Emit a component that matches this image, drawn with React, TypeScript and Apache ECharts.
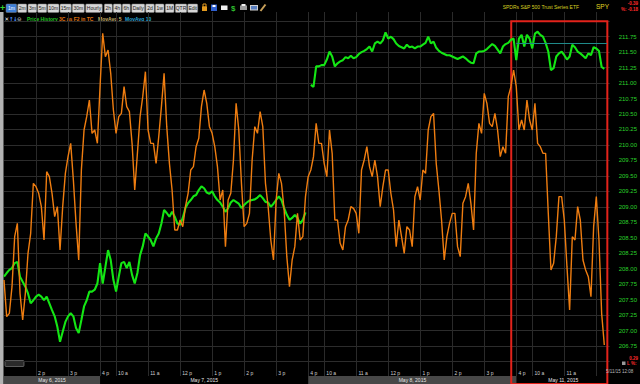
import React, { useEffect, useRef } from 'react';
import * as echarts from 'echarts';

// ---------- data ----------
const SESSIONS = [
  { day: '05-06', label: 'May 6, 2015', openMin: 780, bars: 36 },
  { day: '05-07', label: 'May 7, 2015', openMin: 570, bars: 78 },
  { day: '05-08', label: 'May 8, 2015', openMin: 570, bars: 78 },
  { day: '05-11', label: 'May 11, 2015', openMin: 570, bars: 36 },
];

// SPY price, 5-minute bars (null = overnight gap)
const PRICE: (number | null)[] = [
  207.87, 207.93, 207.98, 208.01, 208.09, 208.11, 207.87, 207.79, 207.71, 207.6,
  207.44, 207.49, 207.55, 207.58, 207.55, 207.49, 207.55, 207.44, 207.33, 207.23,
  207.06, 206.82, 206.98, 207.14, 207.23, 207.28, 207.23, 207.04, 206.96, 207.17,
  207.39, 207.49, 207.63, 207.63, 207.66, 207.76,
  208.09, 207.76, 208.03, 208.3, 208.14, 207.82, 207.63, 207.87, 208.09, 208.11,
  208.01, 208.11, 207.9, 207.76, 207.93, 208.22, 208.36, 208.57, 208.52, 208.46,
  208.36, 208.49, 208.57, 208.73, 208.95, 208.9, 208.84, 208.92, 208.84, 208.73,
  208.71, 208.82, 208.98, 209.06, 209.11, 209.17, 209.19, 209.27, 209.33, 209.3,
  209.23, 209.21, 209.25, 209.17, 209.11, 209.07, 209.0, 208.92, 208.98, 209.07,
  209.11, 209.08, 209.05, 208.98, 209.03, 209.07, 209.1, 209.11, 209.12, 209.15,
  209.19, 209.14, 209.08, 209.07, 209.0, 209.05, 209.11, 209.17, 209.11, 208.98,
  208.87, 208.79, 208.82, 208.87, 208.82, 208.73, 208.79, 208.91,
  null, 210.97, 210.94, 211.27, 211.27, 211.29, 211.29, 211.38, 211.51, 211.43,
  211.27, 211.32, 211.35, 211.37, 211.42, 211.4, 211.44, 211.4, 211.42, 211.47,
  211.5, 211.52, 211.55, 211.59, 211.51, 211.64, 211.67, 211.64, 211.69, 211.82,
  211.72, 211.75, 211.71, 211.64, 211.6, 211.58, 211.56, 211.62, 211.58,
  211.59, 211.56, 211.59, 211.59, 211.62, 211.65, 211.75, 211.64, 211.67, 211.57,
  211.52, 211.49, 211.47, 211.45, 211.45, 211.43, 211.41, 211.39, 211.41, 211.43,
  211.4, 211.36, 211.33, 211.32, 211.48, 211.51, 211.51, 211.52, 211.55, 211.59,
  211.63, 211.6, 211.54, 211.48, 211.59, 211.63,
  211.65, 211.7, 211.72, 211.37, 211.72, 211.78, 211.59, 211.78, 211.72, 211.56,
  211.8, 211.83, 211.78, 211.75, 211.65, 211.51, 211.21, 211.24, 211.43, 211.48,
  211.51, 211.45, 211.38, 211.43, 211.62, 211.58, 211.51, 211.48, 211.44, 211.4,
  211.48, 211.45, 211.58, 211.56, 211.52, 211.26, 211.23,
];

// 3C indicator (own hidden scale)
const OSC: number[] = [
  22, 11, 12, 20, 35, 39, 18, 10, 18, 30,
  36, 51, 50, 48, 44, 34, 54.5, 53, 48, 41,
  44, 31, 44, 54, 59, 63, 52, 39, 28, 55,
  67, 71, 76, 66, 67, 63,
  80, 96, 89, 91, 84, 73, 66, 71, 72, 80,
  74, 72.5, 63, 49, 60, 71, 77, 84.5, 67, 63,
  63, 57, 65, 74, 84, 68, 57, 49, 37, 37,
  40, 38, 44, 48, 55, 56, 62, 64.5, 74, 79,
  75, 68, 66, 62, 56, 46, 49, 32, 46, 48,
  58, 75, 67, 51, 38, 39, 42, 58, 68, 66,
  72.5, 68, 51, 44, 34, 28, 46, 54, 51, 43,
  29, 20, 28, 32, 42, 34, 35, 47,
  53, 55, 59, 69, 63, 63, 57, 53, 67, 60,
  40, 40, 33, 31, 38, 40, 44, 43.5, 42, 36,
  55, 58, 62, 56, 53, 58, 53, 44, 50, 55,
  55, 48, 43, 32, 40, 35, 30, 38, 37,
  32, 47, 50, 46, 55, 54, 67, 71, 72, 57,
  49, 40, 28, 35, 39, 42, 42, 32, 29, 45,
  47, 51, 45, 37, 60, 69, 66, 78, 75, 69,
  68, 72, 67, 59, 62, 60,
  77, 80, 85, 80, 67, 70, 67, 76, 70, 67,
  75, 63, 62, 60, 60, 42, 25, 27, 35, 47,
  47, 40, 26, 13, 35, 34, 44, 40, 28, 25,
  23, 17, 38, 47, 34, 12, 2.5,
];

const RESISTANCE = 211.64;
const RESISTANCE_FROM = '05-11 09:30';
const RESISTANCE_TO = '05-11 12:20';
const HIGHLIGHT_FROM = '05-08 15:50';
const HIGHLIGHT_TO = '05-11 12:20';
const HIGHLIGHT_TOP = 212.0;

const PRICE_MIN = 206.5;
const PRICE_MAX = 212.0;
const PRICE_STEP = 0.25;
const OSC_MIN = -2.45;
const OSC_MAX = 99.64;

const TOOLBAR_LABELS = ['1m', '2m', '3m', '5m', '10m', '15m', '30m', 'Hourly', '2h', '4h', '6h', 'Daily', '2d', '1w', '1M', 'QTR', 'Edit'];
const LEGEND_ITEMS = ['Price History', '3C as F2 in TC', 'MovAvg 5', 'MovAvg 10'];

// ---------- layout / style ----------
const TOOLBAR_X = [6, 17.7, 28, 37.7, 47.7, 60, 72.3, 85.7, 104.3, 113.3, 122.3, 131.7, 145.7, 155.3, 165.3, 175.3, 187.7];
const TOOLBAR_W = [10.7, 9, 8.7, 9, 11.3, 11.3, 12, 16.6, 8, 8, 8, 13, 8.6, 8.7, 8.7, 11.4, 10];
const LEGEND_X = [27, 59, 98, 125];
const LEGEND_COLORS = ['#23c823', '#e27612', '#c9b46a', '#29a3d6'];
const BAND_COLORS = ['#474747', '#000000', '#474747', '#000000'];

const GRID_LEFT = 4;
const GRID_RIGHT = 30;
const FRAME_TOP = 12;
const FRAME_H = 372;
const PLOT_TOP = 21.2;
const PLOT_H = 340.3;
const BAND_TOP = 376;
const BAND_H = 8;
const FONT = 'Liberation Sans, Arial, sans-serif';

// ---------- derived ----------
const pad = (n: number) => (n < 10 ? '0' + n : '' + n);
const categories: string[] = [];
const sessionStart: number[] = [];
SESSIONS.forEach((s) => {
  sessionStart.push(categories.length);
  for (let k = 0; k < s.bars; k++) {
    const m = s.openMin + 5 * k;
    categories.push(`${s.day} ${pad(Math.floor(m / 60))}:${pad(m % 60)}`);
  }
});

function hm(idx: number) {
  const t = categories[idx].split(' ')[1];
  const [h, m] = t.split(':').map(Number);
  return { h, m };
}
function isGridMark(idx: number) {
  if (idx === 0) return false;
  const { h, m } = hm(idx);
  if (h === 9 && m === 30) return true;
  return m === 0;
}
function timeLabel(idx: number) {
  const { h, m } = hm(idx);
  if (h === 9 && m === 30) return '4 p';
  if (h < 12) return `${h} a`;
  if (h === 12) return '12 p';
  return `${h - 12} p`;
}
const LAST_DATA = PRICE.length - 1;

const pxPerUnit = PLOT_H / (PRICE_MAX - PRICE_MIN);
const FRAME_MAX = PRICE_MAX + (PLOT_TOP - FRAME_TOP) / pxPerUnit;
const FRAME_MIN = PRICE_MIN - (FRAME_TOP + FRAME_H - (PLOT_TOP + PLOT_H)) / pxPerUnit;

function buildGraphic() {
  const els: any[] = [];
  // left sidebar strip
  els.push({ type: 'rect', shape: { x: 0, y: 12, width: 3.5, height: 372 }, style: { fill: '#b3b3b3' }, silent: true });
  // green plus
  els.push({ type: 'text', x: 0, y: 7.5, style: { text: '+', fill: '#2fd02f', font: `bold 9px ${FONT}`, textVerticalAlign: 'middle' } });
  TOOLBAR_LABELS.forEach((lab, k) => {
    const sel = k === 0;
    els.push({
      type: 'rect',
      shape: { x: TOOLBAR_X[k], y: 4, width: TOOLBAR_W[k], height: 8.5, r: 1 },
      style: { fill: sel ? '#3f7fd6' : '#d6d6d6', stroke: '#7a7a7a', lineWidth: 0.5 },
    });
    els.push({
      type: 'text',
      x: TOOLBAR_X[k] + TOOLBAR_W[k] / 2,
      y: 8.4,
      style: { text: lab, fill: sel ? '#ffffff' : '#1a1a1a', font: `5px ${FONT}`, textAlign: 'center', textVerticalAlign: 'middle' },
    });
  });
  // toolbar icons
  els.push({ type: 'rect', shape: { x: 202, y: 6.5, width: 5, height: 4.5 }, style: { fill: '#e39a1f' } });
  els.push({ type: 'rect', shape: { x: 203, y: 4, width: 3, height: 3 }, style: { fill: 'none', stroke: '#e39a1f', lineWidth: 1 } });
  els.push({ type: 'rect', shape: { x: 211, y: 4.5, width: 6, height: 6.5 }, style: { fill: '#2f5fcf' } });
  els.push({ type: 'rect', shape: { x: 212.5, y: 5, width: 3, height: 2 }, style: { fill: '#ffffff' } });
  els.push({ type: 'rect', shape: { x: 221, y: 5.5, width: 6.5, height: 4.5 }, style: { fill: '#f0f0f0' } });
  els.push({ type: 'text', x: 231, y: 8, style: { text: '$', fill: '#2fbf2f', font: `bold 8px ${FONT}`, textVerticalAlign: 'middle' } });
  els.push({ type: 'rect', shape: { x: 240, y: 5.5, width: 7, height: 4.5 }, style: { fill: '#9a9a9a' } });
  els.push({ type: 'rect', shape: { x: 241.5, y: 4, width: 4, height: 2 }, style: { fill: '#eeeeee' } });
  els.push({ type: 'rect', shape: { x: 250, y: 5, width: 8, height: 5.5 }, style: { fill: '#cfcfcf' } });
  els.push({ type: 'rect', shape: { x: 251, y: 6, width: 6, height: 3.5 }, style: { fill: '#5a7fbf' } });
  els.push({ type: 'line', shape: { x1: 260.5, y1: 11, x2: 265.5, y2: 4.5 }, style: { stroke: '#c9a15a', lineWidth: 2 } });

  // legend row icons
  const icons = [['✕', 4.5, '#eeeeee'], ['↑', 9, '#4a90ff'], ['↓', 13, '#4a90ff'], ['⊖', 17, '#aaaaaa']];
  icons.forEach(([t, x, c]) => {
    els.push({ type: 'text', x, y: 19, style: { text: t, fill: c, font: `bold 5.5px DejaVu Sans, sans-serif`, textVerticalAlign: 'middle' } });
  });
  LEGEND_ITEMS.forEach((t, k) => {
    els.push({ type: 'text', x: LEGEND_X[k], y: 19, style: { text: t, fill: LEGEND_COLORS[k], font: `bold 5px ${FONT}`, textVerticalAlign: 'middle' } });
  });

  // top right
  els.push({ type: 'text', x: 579, y: 7, style: { text: 'SPDRs S&P 500 Trust Series ETF', fill: '#d9d020', font: `5px ${FONT}`, textAlign: 'right', textVerticalAlign: 'middle' } });
  els.push({ type: 'text', x: 596, y: 6.5, style: { text: 'SPY', fill: '#e0d820', font: `6.5px ${FONT}`, textVerticalAlign: 'middle' } });
  els.push({ type: 'text', x: 638, y: 3.5, style: { text: '-0.39', fill: '#ff2a2a', font: `bold 4.5px ${FONT}`, textAlign: 'right', textVerticalAlign: 'middle' } });
  els.push({ type: 'text', x: 638, y: 9.5, style: { text: '%: -0.18', fill: '#ff2a2a', font: `bold 4.5px ${FONT}`, textAlign: 'right', textVerticalAlign: 'middle' } });

  // bottom right
  els.push({ type: 'text', x: 638, y: 358.5, style: { text: '0.29', fill: '#ff2a2a', font: `bold 4.5px ${FONT}`, textAlign: 'right', textVerticalAlign: 'middle' } });
  els.push({ type: 'rect', shape: { x: 622, y: 361.5, width: 3.5, height: 3.5 }, style: { fill: '#999999' } });
  els.push({ type: 'text', x: 627, y: 363.5, style: { text: 'L %:', fill: '#ff2a2a', font: `bold 4.5px ${FONT}`, textVerticalAlign: 'middle' } });
  els.push({ type: 'text', x: 606, y: 371, z: 20, style: { text: '5/11/15 12:08', fill: '#bbbbbb', font: `4.5px ${FONT}`, textVerticalAlign: 'middle' } });

  // scroll widget
  els.push({ type: 'rect', shape: { x: 5, y: 360.5, width: 19, height: 6, r: 1 }, style: { fill: '#2a2a2a', stroke: '#8a8a8a', lineWidth: 0.6 } });
  return els;
}

export default function App() {
  const ref = useRef<HTMLDivElement>(null);
  useEffect(() => {
    if (!ref.current) return;
    document.body.style.margin = '0';
    const chart = echarts.init(ref.current, null, { renderer: 'svg' });
    const lastPrice = PRICE[LAST_DATA] as number;
    const bands = SESSIONS.map((s, k) => [
      { xAxis: categories[sessionStart[k]], name: s.label, itemStyle: { color: BAND_COLORS[k] } },
      { xAxis: categories[k + 1 < SESSIONS.length ? sessionStart[k + 1] : categories.length - 1] },
    ]);
    const option: any = {
      animation: false,
      backgroundColor: '#000000',
      tooltip: { show: false },
      grid: [
        { left: GRID_LEFT, right: GRID_RIGHT, top: FRAME_TOP, height: FRAME_H },
        { left: GRID_LEFT, right: GRID_RIGHT, top: PLOT_TOP, height: PLOT_H },
        { left: GRID_LEFT, right: GRID_RIGHT, top: BAND_TOP, height: BAND_H },
      ],
      xAxis: [
        {
          type: 'category', gridIndex: 0, data: categories, boundaryGap: false,
          axisLine: { show: false }, axisTick: { show: false },
          axisLabel: {
            inside: true, margin: 9, interval: (i: number) => isGridMark(i) && i < LAST_DATA - 5,
            formatter: (_v: string, i: number) => timeLabel(i),
            color: '#d0d0d0', fontSize: 5, fontFamily: FONT, align: 'left', verticalAlign: 'bottom', padding: [0, 0, 0, 2],
          },
          splitLine: { show: true, interval: (i: number) => isGridMark(i), lineStyle: { color: '#2a2a2a', width: 1 } },
        },
        { type: 'category', gridIndex: 1, data: categories, boundaryGap: false, show: false },
        { type: 'category', gridIndex: 2, data: categories, boundaryGap: false, show: false },
      ],
      yAxis: [
        {
          type: 'value', gridIndex: 1, position: 'right', min: PRICE_MIN, max: PRICE_MAX, interval: PRICE_STEP,
          axisLine: { show: false }, axisTick: { show: false },
          axisLabel: {
            margin: 9, color: '#2bd12b', fontSize: 6, fontFamily: FONT,
            showMinLabel: false, showMaxLabel: false, formatter: (v: number) => v.toFixed(2),
          },
          splitLine: { show: true, lineStyle: { color: '#2c2c2c', width: 1 } },
        },
        { type: 'value', gridIndex: 1, min: OSC_MIN, max: OSC_MAX, show: false },
        { type: 'value', gridIndex: 0, min: FRAME_MIN, max: FRAME_MAX, show: false },
        { type: 'value', gridIndex: 2, min: 0, max: 1, show: false },
      ],
      series: [
        {
          name: 'Price History', type: 'line', xAxisIndex: 1, yAxisIndex: 0, data: PRICE,
          showSymbol: false, connectNulls: false, silent: true,
          lineStyle: { color: '#14e614', width: 2.1 }, itemStyle: { color: '#14e614' },
          markLine: {
            silent: true, symbol: ['none', 'none'], animation: false,
            data: [
              [
                { coord: [RESISTANCE_FROM, RESISTANCE], lineStyle: { color: '#1f8a8a', width: 1, type: 'solid' }, label: { show: false } },
                { coord: [RESISTANCE_TO, RESISTANCE] },
              ],
              {
                yAxis: lastPrice,
                lineStyle: { opacity: 0 },
                label: {
                  show: true, position: 'end', distance: 8, formatter: () => lastPrice.toFixed(2),
                  color: '#ffffff', fontSize: 5.5, fontFamily: FONT, backgroundColor: '#1c1c1c',
                  borderColor: '#d0d0d0', borderWidth: 1, padding: [1, 2, 0.5, 2],
                },
              },
            ],
          },
        },
        {
          name: '3C as F2 in TC', type: 'line', xAxisIndex: 1, yAxisIndex: 1, data: OSC,
          showSymbol: false, silent: true,
          lineStyle: { color: '#ef7d10', width: 1.4 }, itemStyle: { color: '#ef7d10' },
        },
        {
          name: 'dates', type: 'line', xAxisIndex: 2, yAxisIndex: 3, data: [], z: 5, silent: true,
          markArea: {
            silent: true,
            label: { show: true, position: 'inside', color: '#e6e6e6', fontSize: 5, fontFamily: FONT },
            data: bands,
          },
        },
        {
          name: 'frame', type: 'line', xAxisIndex: 0, yAxisIndex: 2, data: [], z: 10, silent: true,
          markArea: {
            silent: true,
            itemStyle: { color: 'rgba(0,0,0,0)', borderColor: '#e3231b', borderWidth: 2 },
            data: [[{ xAxis: HIGHLIGHT_FROM, yAxis: HIGHLIGHT_TOP }, { xAxis: HIGHLIGHT_TO, yAxis: FRAME_MIN }]],
          },
        },
      ],
      graphic: { elements: buildGraphic() },
    };
    chart.setOption(option);
    return () => chart.dispose();
  }, []);
  return (
    <div style={{ position: 'fixed', left: 0, top: 0, width: 640, height: 384, background: '#000' }}>
      <div ref={ref} style={{ width: 640, height: 384 }} />
    </div>
  );
}
